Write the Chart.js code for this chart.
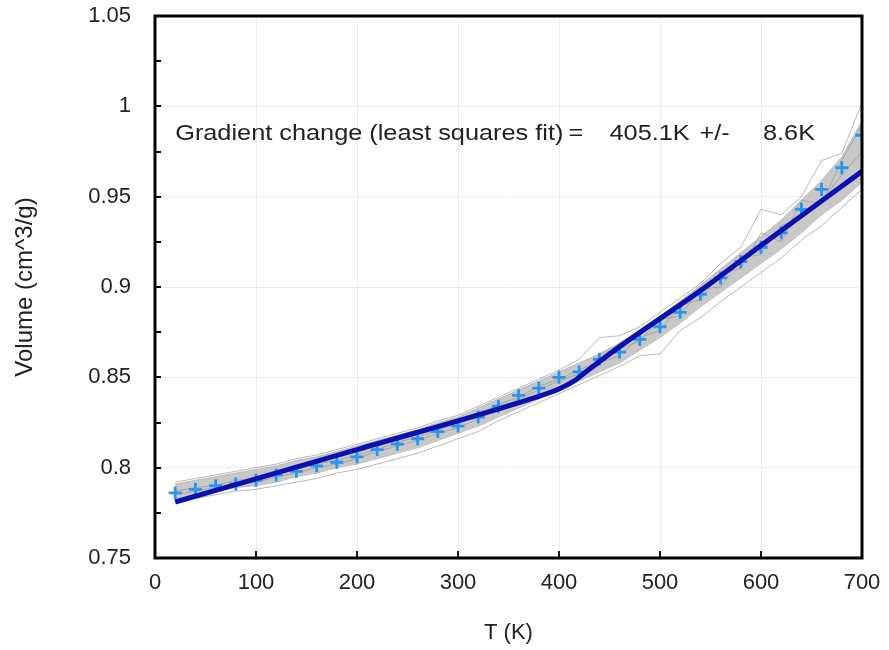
<!DOCTYPE html>
<html>
<head>
<meta charset="utf-8">
<script src="https://cdn.jsdelivr.net/npm/chart.js@4.4.1/dist/chart.umd.min.js"></script>
<style>
    html, body { margin: 0; padding: 0; background: #fff; }
    #chart { display: block; }
</style>
</head>
<body>
<canvas id="chart" width="889" height="650"></canvas>
<script>
(function () {
    "use strict";

    // Temperatures of the sampled points (K)
    const temps = [
        20, 40, 60, 80, 100, 120, 140, 160, 180, 200, 220, 240, 260, 280,
        300, 320, 340, 360, 380, 400, 420, 440, 460, 480, 500, 520, 540,
        560, 580, 600, 620, 640, 660, 680, 700,
    ];

    // Mean volume (blue crosses)
    const meanVolume = [
        0.786, 0.788, 0.790, 0.791, 0.793, 0.796, 0.798, 0.801, 0.803,
        0.806, 0.810, 0.813, 0.816, 0.820, 0.823, 0.828, 0.834, 0.840,
        0.844, 0.850, 0.853, 0.860, 0.864, 0.871, 0.878, 0.886, 0.896,
        0.905, 0.914, 0.922, 0.930, 0.943, 0.954, 0.966, 0.984,
    ];

    // Grey spread of the individual runs: upper and lower edges
    const runsUpper = [
        0.791, 0.793, 0.795, 0.797, 0.799, 0.801, 0.804, 0.806, 0.809,
        0.812, 0.815, 0.818, 0.821, 0.825, 0.828, 0.833, 0.838, 0.843,
        0.848, 0.853, 0.858, 0.863, 0.869, 0.876, 0.884, 0.892, 0.901,
        0.910, 0.919, 0.928, 0.937, 0.948, 0.959, 0.972, 0.992,
    ];
    const runsLower = [
        0.783, 0.785, 0.787, 0.789, 0.790, 0.792, 0.795, 0.797, 0.800,
        0.802, 0.805, 0.808, 0.811, 0.815, 0.819, 0.823, 0.828, 0.833,
        0.838, 0.843, 0.848, 0.853, 0.858, 0.865, 0.872, 0.880, 0.889,
        0.897, 0.905, 0.913, 0.921, 0.930, 0.940, 0.948, 0.958,
    ];

    // A few individual runs that stray from the pack
    const runA = [
        0.792, 0.794, 0.796, 0.798, 0.800, 0.802, 0.805, 0.807, 0.810,
        0.813, 0.816, 0.819, 0.822, 0.826, 0.829, 0.834, 0.839, 0.844,
        0.849, 0.854, 0.860, 0.872, 0.873, 0.878, 0.886, 0.894, 0.902,
        0.913, 0.922, 0.943, 0.940, 0.950, 0.970, 0.974, 1.002,
    ];
    const runB = [
        0.781, 0.783, 0.785, 0.787, 0.788, 0.790, 0.792, 0.794, 0.797,
        0.799, 0.802, 0.805, 0.808, 0.812, 0.816, 0.820, 0.826, 0.831,
        0.836, 0.841, 0.846, 0.851, 0.856, 0.862, 0.863, 0.876, 0.883,
        0.892, 0.900, 0.908, 0.916, 0.926, 0.934, 0.944, 0.954,
    ];
    const runC = [
        0.787, 0.789, 0.790, 0.793, 0.794, 0.797, 0.799, 0.802, 0.804,
        0.807, 0.810, 0.814, 0.817, 0.821, 0.824, 0.829, 0.835, 0.839,
        0.845, 0.849, 0.854, 0.859, 0.866, 0.870, 0.882, 0.884, 0.899,
        0.900, 0.916, 0.918, 0.934, 0.938, 0.948, 0.962, 0.975,
    ];
    const runD = [
        0.785, 0.787, 0.789, 0.790, 0.792, 0.795, 0.797, 0.800, 0.802,
        0.805, 0.809, 0.812, 0.815, 0.819, 0.822, 0.827, 0.833, 0.838,
        0.843, 0.848, 0.852, 0.858, 0.862, 0.872, 0.876, 0.890, 0.893,
        0.908, 0.910, 0.930, 0.925, 0.948, 0.946, 0.970, 0.990,
    ];

    // Two-segment least squares fit (dark blue)
    const fitTemps = [20, 200, 380, 400, 415, 430, 460, 540, 600, 700];
    const fitVolume = [
        0.781, 0.810, 0.8395, 0.8435, 0.848, 0.8545, 0.867, 0.898, 0.923,
        0.964,
    ];

    const xTicks = [0, 100, 200, 300, 400, 500, 600, 700];
    const yTicks = [0.75, 0.8, 0.85, 0.9, 0.95, 1, 1.05];
    const yMinorTicks = [0.775, 0.825, 0.875, 0.925, 0.975, 1.025];
    // annotation pieces, laid out along the x axis (K)
    const notePieces = [
        ["Gradient change (least squares fit)", 20],
        ["=", 409.5],
        ["405.1K", 450],
        ["+/-", 539],
        ["8.6K", 602],
    ];
    const noteY = 0.9845;

    const pts = (xs, ys) => xs.map((x, i) => ({ x: x, y: ys[i] }));
    const FONT = "'Liberation Sans', Arial, sans-serif";

    const frame = {
        id: "frame",
        afterDraw(chart) {
            const { ctx, chartArea: a, scales } = chart;
            const x = scales.x;
            const y = scales.y;
            ctx.save();
            ctx.strokeStyle = "#000";
            ctx.lineWidth = 1.8;

            // inward tick marks
            ctx.beginPath();
            xTicks.slice(1, -1).forEach((v) => {
                const px = Math.round(x.getPixelForValue(v));
                ctx.moveTo(px, a.bottom);
                ctx.lineTo(px, a.bottom - 7);
            });
            yTicks
                .slice(1, -1)
                .concat(yMinorTicks)
                .forEach((v) => {
                    const py = Math.round(y.getPixelForValue(v));
                    ctx.moveTo(a.left, py);
                    ctx.lineTo(a.left + 6, py);
                });
            ctx.stroke();

            // box
            ctx.lineWidth = 3;
            ctx.strokeRect(a.left, a.top, a.right - a.left, a.bottom - a.top);

            // annotation text, widened like the original
            ctx.fillStyle = "#222";
            ctx.font = "22px " + FONT;
            ctx.textBaseline = "middle";
            const py = y.getPixelForValue(noteY);
            notePieces.forEach(([txt, v]) => {
                const px = x.getPixelForValue(v);
                ctx.save();
                ctx.translate(px, py);
                ctx.scale(1.15, 1);
                ctx.fillText(txt, 0, 0);
                ctx.restore();
            });
            ctx.restore();
        },
    };

    const ctx = document.getElementById("chart").getContext("2d");
    const greyRun = (data) => ({
        data: pts(temps, data),
        borderColor: "rgba(150,150,150,0.85)",
        borderWidth: 0.8,
        pointRadius: 0,
        tension: 0,
        fill: false,
    });

    new Chart(ctx, {
        type: "line",
        data: {
            datasets: [
                {
                    data: pts(fitTemps, fitVolume),
                    borderColor: "#0c10b0",
                    borderWidth: 5,
                    pointRadius: 0,
                    cubicInterpolationMode: "monotone",
                    fill: false,
                },
                {
                    data: pts(temps, meanVolume),
                    showLine: false,
                    pointStyle: "cross",
                    pointRadius: 6.5,
                    pointBorderWidth: 2.8,
                    pointBorderColor: "#2a95f0",
                    pointBackgroundColor: "#2a95f0",
                },
                greyRun(runA),
                greyRun(runB),
                greyRun(runC),
                greyRun(runD),
                {
                    data: pts(temps, runsUpper),
                    borderColor: "rgba(170,170,170,0.9)",
                    borderWidth: 0.8,
                    pointRadius: 0,
                    backgroundColor: "rgba(190,190,190,0.85)",
                    fill: "+1",
                },
                {
                    data: pts(temps, runsLower),
                    borderColor: "rgba(170,170,170,0.9)",
                    borderWidth: 0.8,
                    pointRadius: 0,
                    fill: false,
                },
            ],
        },
        options: {
            responsive: false,
            animation: false,
            layout: { padding: { top: 16, right: 27, left: 0, bottom: 0 } },
            plugins: {
                legend: { display: false },
                tooltip: { enabled: false },
            },
            scales: {
                x: {
                    type: "linear",
                    min: 0,
                    max: 700,
                    afterFit: (s) => {
                        s.height = 92;
                        s.paddingLeft = 0;
                        s.paddingRight = 0;
                    },
                    ticks: {
                        stepSize: 100,
                        padding: 12,
                        color: "#222",
                        font: { family: FONT, size: 22 },
                    },
                    grid: { color: "#ececec", lineWidth: 1, drawTicks: false },
                    border: { display: false },
                    title: {
                        display: true,
                        text: "T (K)",
                        color: "#222",
                        font: { family: FONT, size: 22 },
                        padding: { top: 0, bottom: 4 },
                    },
                },
                y: {
                    type: "linear",
                    min: 0.75,
                    max: 1.05,
                    afterFit: (s) => {
                        s.width = 155;
                        s.paddingTop = 0;
                        s.paddingBottom = 0;
                    },
                    afterBuildTicks: (s) => {
                        s.ticks = yTicks.map((v) => ({ value: v }));
                    },
                    ticks: {
                        padding: 24,
                        color: "#222",
                        font: { family: FONT, size: 22 },
                        callback: (v) => String(parseFloat(v.toFixed(3))),
                    },
                    grid: { color: "#ececec", lineWidth: 1, drawTicks: false },
                    border: { display: false },
                    title: {
                        display: true,
                        text: "Volume (cm^3/g)",
                        color: "#222",
                        font: { family: FONT, size: 24 },
                        padding: { top: 11, bottom: 11 },
                    },
                },
            },
        },
        plugins: [frame],
    });
})();
</script>
</body>
</html>
